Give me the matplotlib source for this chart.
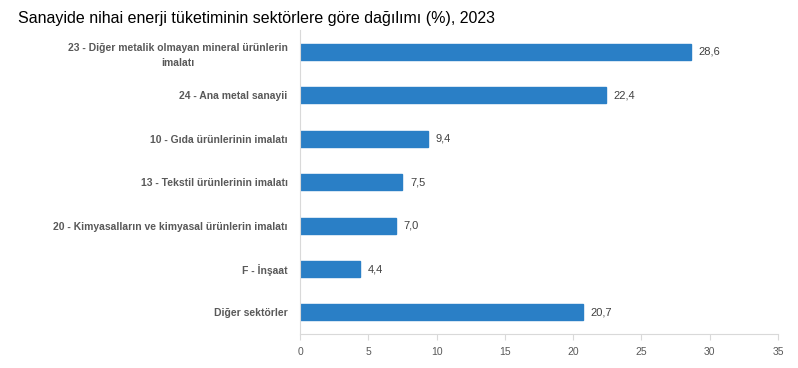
import matplotlib
matplotlib.use("Agg")
import matplotlib.pyplot as plt

categories = [
    "23 - Diğer metalik olmayan mineral ürünlerin\nimalatı",
    "24 - Ana metal sanayii",
    "10 - Gıda ürünlerinin imalatı",
    "13 - Tekstil ürünlerinin imalatı",
    "20 - Kimyasalların ve kimyasal ürünlerin imalatı",
    "F - İnşaat",
    "Diğer sektörler",
]
values = [28.6, 22.4, 9.4, 7.5, 7.0, 4.4, 20.7]
value_labels = ["28,6", "22,4", "9,4", "7,5", "7,0", "4,4", "20,7"]
xticks = [0, 5, 10, 15, 20, 25, 30, 35]
title = "Sanayide nihai enerji tüketiminin sektörlere göre dağılımı (%), 2023"

plt.rcParams['font.family'] = ['Liberation Sans', 'DejaVu Sans']

fig = plt.figure(figsize=(7.98, 3.68), dpi=100)
ax = fig.add_axes([0.376, 0.092, 0.599, 0.826])

ypos = list(range(len(categories)))
ax.barh(ypos, values, height=0.37, color="#2a7fc6", edgecolor="#2a7fc6")
ax.set_ylim(len(categories) - 0.5, -0.5)
ax.set_xlim(0, 35)
ax.set_xticks(xticks)
ax.set_xticklabels([str(t) for t in xticks], fontsize=7.5, color="#595959")
ax.set_yticks(ypos)
ax.set_yticklabels(categories, fontsize=7.5, color="#595959", fontweight="bold",
                   multialignment="center", linespacing=1.6)
ax.tick_params(axis="y", length=0, pad=9)
ax.tick_params(axis="x", length=4, color="#d9d9d9", pad=5)

for s in ["top", "right"]:
    ax.spines[s].set_visible(False)
ax.spines["left"].set_color("#d9d9d9")
ax.spines["bottom"].set_color("#d9d9d9")

for y, v, lab in zip(ypos, values, value_labels):
    ax.text(v + 0.55, y, lab, va="center", ha="left", fontsize=8, color="#404040")

fig.text(0.022, 0.95, title, fontsize=11.5, color="#000000", ha="left", va="center")

fig.savefig("out.png", dpi=100)
